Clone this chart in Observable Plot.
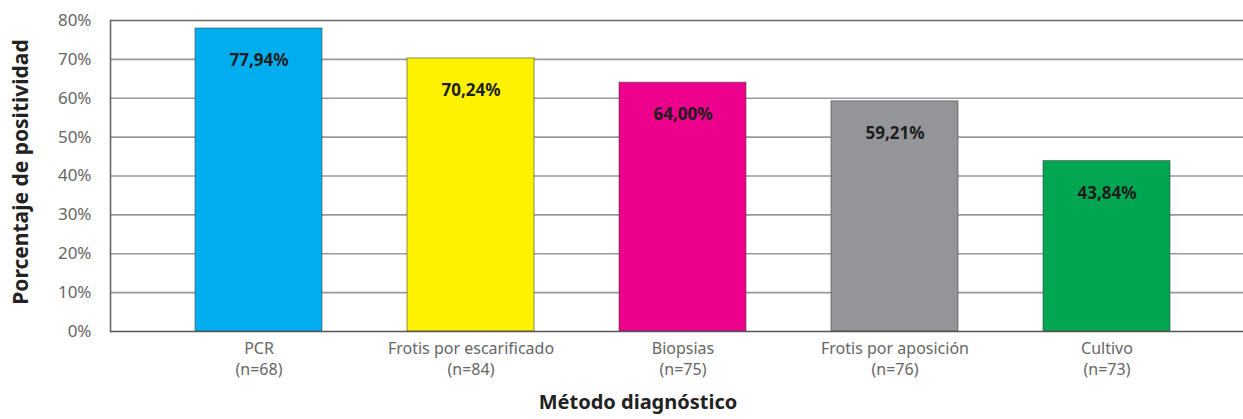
<!DOCTYPE html>
<html>
<head>
<meta charset="utf-8">
<script src="https://cdn.jsdelivr.net/npm/d3@7"></script>
<script src="https://cdn.jsdelivr.net/npm/@observablehq/plot@0.6"></script>
<style>
  html, body { margin: 0; padding: 0; background: #fff; }
  #chart svg { display: block; }
</style>
</head>
<body>
<div id="chart"></div>
<script>
const methods = ["PCR", "Frotis por escarificado", "Biopsias", "Frotis por aposición", "Cultivo"];
const nValues = [68, 84, 75, 76, 73];
const percents = [77.94, 70.24, 64.00, 59.21, 43.84];
const barColors = ["#00AEEF", "#FFF200", "#EC008C", "#939598", "#00A651"];
const yTicks = [0, 10, 20, 30, 40, 50, 60, 70, 80];
const yTitle = "Porcentaje de positividad";
const xTitle = "Método diagnóstico";

const data = methods.map((m, i) => ({method: m, n: nValues[i], pct: percents[i], color: barColors[i]}));
const fmt = v => v.toFixed(2).replace(".", ",") + "%";
const nByMethod = new Map(methods.map((m, i) => [m, nValues[i]]));

const font = "'Noto Sans', 'Open Sans', sans-serif";

const chart = Plot.plot({
  width: 1243,
  height: 419,
  marginLeft: 110,
  marginRight: 0,
  marginTop: 20,
  marginBottom: 88,
  style: {fontFamily: font, background: "#fff"},
  x: {domain: methods, padding: 0.4, paddingOuter: 0.36, align: 0.54, label: null},
  y: {domain: [0, 80], label: null},
  marks: [
    Plot.ruleY(yTicks.filter(t => t > 0 && t < 80), {stroke: "#9a9a9a", strokeWidth: 1.6}),
    Plot.ruleY([80], {stroke: "#6a6a6a", strokeWidth: 1.6}),
    Plot.barY(data, {x: "method", y: "pct", fill: "color", stroke: "#444", strokeWidth: 1, strokeOpacity: 0.6}),
    Plot.text(data, {x: "method", y: "pct", text: d => fmt(d.pct), dy: 32, fontWeight: "bold", fontSize: 17, fill: "#1e1e1e"}),
    Plot.ruleY([0], {stroke: "#555", strokeWidth: 1.6}),
    Plot.frame({anchor: "left", stroke: "#666", strokeWidth: 1.6}),
    Plot.axisY({ticks: yTicks, tickFormat: d => d + "%", tickSize: 0, tickPadding: 19, fontSize: 17, color: "#666", label: null}),
    Plot.axisX({tickSize: 0, tickPadding: 8, fontSize: 16, color: "#666", lineHeight: 1.3,
      tickFormat: m => m + "\n(n=" + nByMethod.get(m) + ")", label: null}),
    Plot.text([xTitle], {text: d => d, frameAnchor: "bottom", dx: -39, dy: 77, fontWeight: "bold", fontSize: 20, fill: "#222"}),
    Plot.text([yTitle], {text: d => d, frameAnchor: "left", textAnchor: "middle", dx: -89, dy: -4, rotate: -90, fontWeight: "bold", fontSize: 21, fill: "#222"})
  ]
});
document.getElementById("chart").appendChild(chart);
</script>
</body>
</html>
